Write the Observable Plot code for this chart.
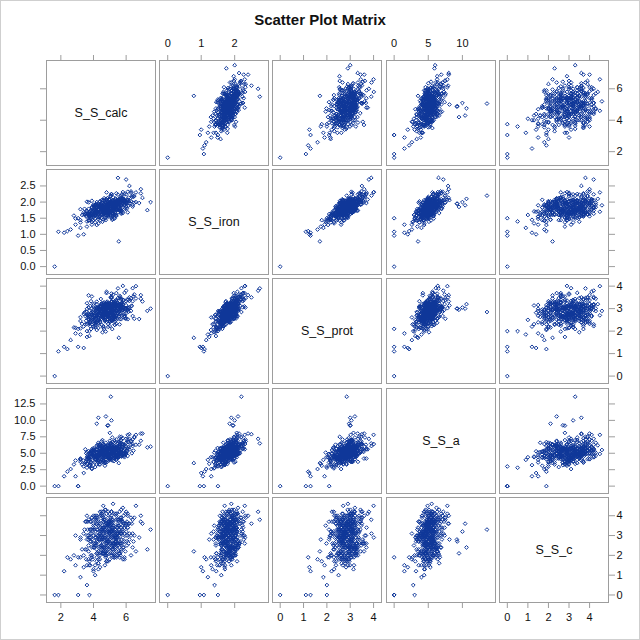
<!DOCTYPE html>
<html><head><meta charset="utf-8">
<script src="https://cdn.jsdelivr.net/npm/d3@7"></script>
<script src="https://cdn.jsdelivr.net/npm/@observablehq/plot@0.6"></script>
<style>
body{margin:0;background:#fff;}
#chart{position:relative;width:640px;height:640px;box-sizing:border-box;border:1px solid #cfcfcf;background:#fff;overflow:hidden;font-family:"Liberation Sans",Arial,sans-serif;}
#title{position:absolute;left:0;width:638px;top:10px;text-align:center;font-weight:bold;font-size:15px;color:#111;}
</style></head><body><div id="chart"><div id="title">Scatter Plot Matrix</div></div>
<script>
const calc=[5.1,3.75,5.7,5.4,5.4,4.1,5.75,3.7,5.0,4.7,
3.8,6.4,4.55,4.5,4.9,4.1,6.35,3.9,5.3,5.1,
3.7,5.05,5.5,4.15,6.2,4.0,4.8,4.4,4.5,5.55,
5.5,6.0,4.0,6.5,4.85,4.6,4.4,5.45,4.9,3.9,
3.65,5.3,5.2,6.4,4.3,3.2,4.8,4.55,6.0,4.2,
5.4,4.45,4.95,4.5,5.6,3.6,6.2,5.2,3.6,4.9,
6.05,4.4,5.0,3.45,5.2,4.3,5.2,5.0,2.8,5.6,
4.7,5.85,5.15,4.7,3.9,5.4,5.2,4.1,5.15,6.8,
4.6,4.2,5.8,3.95,5.55,5.1,3.5,6.0,4.6,4.75,
5.7,4.8,4.3,4.75,4.9,4.5,5.3,4.05,4.9,6.15,
4.5,5.05,4.6,5.9,3.8,5.3,5.25,4.7,5.4,4.3,
5.0,5.6,3.85,5.6,4.4,5.1,4.65,2.9,5.7,4.2,
4.8,5.95,4.6,4.65,5.0,5.9,4.1,4.8,3.8,4.95,
4.9,5.2,5.1,5.8,3.55,5.5,5.7,5.75,3.6,5.0,
4.45,4.5,4.3,5.8,5.0,4.1,4.0,6.45,5.1,5.4,
4.7,3.75,5.65,5.4,4.8,4.3,5.4,4.0,5.1,5.8,
4.85,4.7,3.9,4.75,4.3,5.8,6.1,4.4,3.9,4.4,
5.6,4.45,4.05,5.3,4.6,4.7,4.5,3.4,5.65,5.7,
4.0,5.4,5.2,5.25,5.05,4.1,5.0,5.1,5.2,3.65,
4.3,5.6,3.4,5.85,4.2,5.3,4.6,4.55,4.2,5.35,
5.4,4.25,5.3,6.6,4.8,4.7,4.75,3.2,4.7,5.0,
4.2,6.9,4.75,5.4,5.1,3.6,5.45,4.3,4.6,5.5,
4.5,5.65,5.3,3.85,5.5,5.3,5.3,4.0,4.9,5.95,
4.5,4.8,4.6,7.0,4.55,3.7,6.1,4.85,4.4,5.3,
4.95,5.5,4.5,5.1,3.9,3.8,5.5,5.65,4.6,4.5,
5.2,4.05,6.05,4.2,5.3,4.6,6.3,4.7,5.9,4.6,
5.55,3.8,5.1,4.35,5.7,4.6,5.7,4.9,3.2,4.1,
5.1,6.15,3.75,5.0,5.1,4.4,5.7,4.4,4.85,6.1,
4.2,5.0,4.8,4.65,5.95,4.4,4.8,6.4,4.3,4.35,
5.1,5.9,3.7,5.05,5.3,4.0,5.4,3.55,5.4,5.25,
5.5,3.9,5.7,5.15,4.55,3.8,5.2,4.7,5.1,5.0,
5.3,4.5,4.65,4.2,5.1,5.9,3.85,5.7,5.0,4.8,
4.6,5.85,5.5,4.2,4.2,4.3,5.75,4.9,3.3,4.95,
5.3,5.7,4.4,5.7,3.85,6.1,4.1,6.3,5.0,4.85,
5.1,5.05,4.7,3.9,5.1,5.45,4.1,4.6,5.8,3.5,
5.55,4.3,4.85,6.0,4.5,4.9,4.8,6.1,4.15,5.6,
5.2,4.6,6.5,5.25,4.5,4.4,5.3,5.35,3.7,5.4,
4.4,4.9,5.55,3.7,5.15,5.4,4.3,5.7,5.1,4.0,
4.75,5.0,6.0,4.8,4.95,3.6,5.5,4.2,4.65,5.45,
4.2,5.3,4.9,6.3,5.25,4.5,4.65,5.0,5.0,4.9,
1.62,1.85,3.06,3.06,3.75,5.5,6.0,7.3,7.5,2.2,2.6,2.9,5.55,5.06,4.3,4.76,
4.2,5.1,4.86,4.9,6.9,3.2,3.6,3.4,2.4,6.6,5.2,4.6,5.8,4.1,6.2,4.0];
const iron=[1.92,1.44,1.93,1.96,1.97,1.77,2.11,1.44,1.88,1.90,
1.65,2.20,1.39,1.98,1.83,1.66,2.16,1.38,1.94,1.86,
1.79,1.78,1.91,1.94,1.95,1.92,1.58,2.02,1.51,2.05,
1.77,1.96,1.71,1.98,1.70,1.93,1.81,1.98,1.55,2.04,
1.67,1.79,1.99,1.91,1.80,1.44,2.07,1.80,1.98,1.66,
1.60,1.69,2.08,1.77,1.78,1.73,2.04,1.73,2.01,1.74,
2.05,1.70,1.68,1.79,1.64,1.86,2.15,1.67,1.58,1.73,
1.85,2.10,1.45,1.84,1.82,1.77,2.03,1.48,1.98,1.97,
1.88,1.74,1.95,1.43,2.09,1.80,1.63,2.24,1.76,1.75,
1.67,1.91,1.74,1.86,1.77,1.63,1.96,1.62,1.92,1.89,
1.72,1.78,1.85,2.25,1.60,1.86,1.78,1.65,1.90,1.47,
1.97,2.07,1.74,1.74,1.84,1.95,1.87,1.49,1.64,2.00,
1.70,2.04,1.60,1.77,2.09,1.77,1.91,1.73,1.71,1.92,
1.97,1.58,1.75,2.31,1.58,1.96,1.75,2.24,1.71,1.70,
1.70,2.06,1.65,2.06,1.64,1.60,1.76,2.16,1.69,1.79,
1.93,1.55,2.00,1.57,1.98,1.54,2.27,1.60,1.85,2.12,
1.90,1.83,1.63,1.67,1.96,1.66,2.05,1.91,1.30,1.86,
2.10,1.93,1.73,1.67,1.67,2.04,1.60,1.68,2.00,2.04,
1.61,2.05,1.86,1.71,1.80,1.90,1.75,1.95,1.98,1.63,
1.85,1.76,1.62,1.90,1.92,1.62,1.85,1.75,1.73,2.11,
1.85,1.53,2.06,2.00,1.81,1.64,1.98,1.78,1.75,1.79,
1.74,2.27,1.44,1.91,1.92,1.64,1.97,1.34,2.05,1.85,
1.82,1.79,1.86,1.55,2.23,1.87,1.85,1.58,1.60,2.04,
1.76,1.83,1.88,2.13,1.88,1.65,1.97,1.91,1.83,1.61,
1.66,2.02,1.72,2.24,1.69,1.55,1.68,2.13,1.64,1.77,
1.76,1.76,1.80,1.89,1.89,1.46,2.33,1.66,1.93,1.70,
2.04,1.70,1.95,1.53,1.92,2.06,1.90,1.78,1.37,1.90,
1.79,2.14,1.59,1.93,1.51,1.90,1.87,1.43,2.12,2.08,
1.83,1.73,2.08,1.63,1.81,1.89,1.76,1.86,1.92,1.67,
1.70,2.05,1.42,2.18,1.60,1.81,2.02,1.55,1.86,1.76,
1.84,1.85,1.71,2.02,1.82,1.65,1.91,1.49,2.25,1.69,
1.80,1.78,2.12,1.29,1.93,1.91,1.51,2.12,2.06,1.73,
1.63,2.05,1.76,1.70,1.70,1.66,2.03,1.82,1.60,1.83,
1.99,1.90,1.56,2.00,1.63,2.32,1.72,2.03,1.69,1.82,
2.03,1.58,1.99,1.62,1.74,2.04,1.37,1.84,2.05,1.63,
2.02,1.60,1.77,1.86,1.89,1.67,2.30,1.68,1.67,2.03,
1.65,1.98,2.19,1.51,1.98,1.85,1.49,2.08,1.63,1.76,
2.02,1.64,1.98,1.99,1.49,1.94,1.70,2.20,1.69,1.89,
1.52,1.92,2.01,1.66,2.07,1.24,1.88,1.87,1.77,1.78,
1.83,1.82,1.79,2.29,1.59,1.92,1.82,1.79,1.60,1.58,
0,1.08,0.96,1.5,1.5,2.75,2.7,1.75,2.0,1.05,1.15,1.3,0.78,2.2,1.9,2.1,
1.85,2.0,1.95,1.95,2.4,1.2,1.4,1.0,1.1,2.3,1.9,1.7,2.1,1.6,2.5,1.45];
const prot=[3.32,1.78,3.16,2.87,3.69,2.44,3.26,2.74,2.40,3.16,
2.35,3.91,1.95,2.92,3.15,2.24,3.13,2.30,3.24,2.88,
3.06,2.69,2.87,2.91,3.05,3.21,2.41,3.11,2.65,2.65,
2.99,3.15,3.14,2.55,2.77,2.99,2.95,2.90,2.19,3.54,
2.68,2.65,3.13,3.33,2.88,2.12,2.96,3.07,3.03,2.38,
2.51,2.78,3.23,3.04,2.53,2.71,3.34,2.56,3.24,2.89,
3.40,2.82,2.22,2.83,2.76,2.37,3.62,2.82,2.16,3.03,
2.76,3.38,2.45,2.89,2.60,3.16,2.96,2.68,3.20,2.54,
3.03,2.68,3.20,2.55,2.66,3.02,2.67,3.33,2.95,3.02,
2.53,3.22,2.60,2.78,3.23,2.28,3.32,2.51,2.92,2.87,
2.99,2.85,2.58,3.70,2.22,3.19,2.68,2.61,3.16,2.14,
2.80,3.47,3.33,2.30,3.00,2.70,3.28,2.15,2.78,3.31,
2.87,2.56,2.77,3.23,3.10,2.67,2.78,3.29,2.41,2.95,
2.73,2.83,2.51,4.01,2.46,3.17,2.92,3.06,2.99,2.47,
3.12,3.18,2.61,2.93,2.66,2.29,2.81,3.55,2.46,3.23,
2.53,2.90,3.12,2.32,2.76,2.87,3.38,2.61,3.20,2.97,
3.07,2.44,3.00,2.93,2.55,2.93,2.96,2.81,2.61,3.09,
2.95,3.43,2.43,2.53,3.08,2.81,2.87,2.76,2.76,3.05,
2.78,2.72,3.17,2.65,3.10,2.56,2.85,3.28,2.94,2.61,
2.70,3.21,2.21,3.05,3.01,2.28,3.17,2.61,3.04,2.91,
2.68,2.43,3.31,3.45,2.62,3.02,3.01,2.45,3.11,2.71,
3.20,3.44,1.98,3.07,3.11,2.32,3.09,2.31,2.99,3.11,
2.79,2.99,3.06,2.09,3.47,3.21,2.54,2.86,2.63,2.99,
2.71,2.78,3.24,3.32,2.77,2.56,2.95,3.15,3.09,2.71,
2.59,3.25,2.55,3.52,2.78,2.39,2.79,3.52,2.22,2.63,
3.07,2.35,2.92,3.03,3.13,2.16,3.47,3.08,2.62,2.63,
3.09,3.12,2.63,2.48,3.44,2.68,3.09,2.52,2.62,2.69,
3.08,3.40,2.33,3.10,2.49,2.95,2.69,2.41,3.31,3.02,
2.73,3.02,3.75,2.10,2.95,2.68,3.16,2.67,3.05,2.70,
2.90,2.76,2.72,3.51,2.44,2.95,2.69,2.86,2.92,2.61,
3.00,2.52,3.17,3.30,2.61,2.47,2.84,2.49,3.67,2.86,
2.52,3.24,3.01,2.05,3.48,2.67,2.73,3.20,3.14,2.52,
2.64,3.04,2.80,2.66,2.85,2.63,3.05,3.11,2.32,2.74,
3.03,3.23,2.39,3.00,2.81,3.05,3.01,2.90,3.02,2.76,
3.47,2.55,2.61,2.72,2.79,3.29,2.17,2.82,3.39,2.30,
2.87,2.78,3.25,2.56,2.92,2.67,3.69,2.53,2.38,3.57,
2.72,2.57,3.63,2.90,2.86,2.93,2.28,3.36,2.52,2.65,
3.10,2.66,2.85,3.59,2.09,3.00,2.80,3.39,2.87,2.71,
2.85,3.07,2.79,2.70,3.17,1.74,3.15,3.03,2.79,3.04,
2.40,3.18,2.93,3.10,2.63,3.21,2.84,3.00,2.45,2.32,
0,1.1,1.3,2.1,2.0,3.9,3.8,2.9,3.0,1.3,1.6,1.9,1.7,2.85,3.0,3.2,
2.95,3.05,3.0,3.0,3.6,1.85,2.0,1.25,1.2,4.0,2.9,2.7,3.2,2.5,3.5,2.2];
const a=[5.8,3.1,5.7,7.1,4.2,4.1,6.0,4.4,4.2,5.1,
5.1,6.1,5.1,6.8,4.4,4.6,5.0,2.7,6.6,5.1,
3.7,6.5,5.4,4.0,5.6,5.6,5.7,3.7,4.0,5.5,
4.8,6.0,4.5,7.5,4.7,4.7,6.3,4.8,5.0,5.6,
4.5,6.0,4.8,6.4,3.8,4.2,5.3,7.0,4.9,4.8,
4.0,4.7,5.9,5.5,4.5,3.4,7.2,4.3,5.2,6.2,
5.3,5.3,4.3,3.4,5.8,6.3,6.0,4.0,3.3,5.0,
5.5,6.3,3.9,4.6,4.9,4.7,5.7,4.7,7.4,6.3,
5.2,4.5,5.9,5.4,5.2,5.1,3.6,6.6,4.9,3.7,
5.5,5.2,3.6,6.1,4.7,5.9,5.4,4.6,4.2,6.7,
4.6,4.8,6.4,5.7,4.9,5.6,5.1,3.5,5.6,4.0,
5.3,7.5,3.7,4.6,6.1,5.0,6.3,3.9,4.5,6.0,
4.8,5.6,3.9,4.6,6.9,5.0,4.1,5.4,3.2,6.1,
5.8,4.8,5.5,6.4,3.8,5.7,5.1,6.4,4.4,4.2,
5.2,4.4,5.5,7.3,5.2,2.9,4.7,5.4,6.1,4.4,
5.6,4.0,6.6,4.5,5.7,4.5,5.8,5.4,5.1,4.9,
6.2,4.4,5.3,4.4,4.8,4.6,6.7,5.0,2.6,5.8,
6.3,5.2,4.8,5.4,3.9,5.8,4.4,3.9,6.0,7.0,
4.3,5.9,4.7,3.8,6.6,4.0,5.1,5.8,5.4,4.5,
4.9,5.9,3.0,5.3,5.5,4.4,6.1,4.1,5.6,5.9,
5.2,4.3,4.9,6.3,5.5,4.5,6.6,4.1,6.0,4.3,
4.1,6.9,4.4,5.5,5.4,4.1,5.7,4.4,5.7,4.4,
5.1,6.9,5.0,3.6,6.5,6.1,4.4,5.8,4.5,5.1,
5.4,4.4,4.9,8.0,5.1,5.3,4.6,6.0,3.9,5.4,
3.9,5.7,5.8,5.7,4.7,3.6,4.3,6.4,5.5,5.3,
5.0,5.0,5.4,6.2,5.9,3.8,6.8,3.7,4.6,5.7,
6.7,4.9,5.6,4.8,5.1,4.8,7.0,4.6,3.7,4.5,
5.0,5.9,4.2,6.0,5.2,6.4,5.2,3.3,5.3,7.8,
4.5,5.3,5.6,4.7,6.2,5.6,4.8,7.1,4.7,3.3,
5.7,4.8,4.3,6.4,4.2,5.2,5.9,5.0,5.1,5.2,
4.9,5.4,5.3,4.7,4.8,4.8,6.7,3.1,6.3,5.9,
4.2,5.5,4.9,4.4,5.6,4.4,4.9,5.1,8.1,3.6,
5.4,5.0,4.6,5.6,3.3,6.6,5.6,5.8,3.3,4.5,
6.9,4.6,5.7,4.8,4.4,7.1,4.1,6.3,4.7,5.5,
6.4,4.1,4.7,5.4,5.4,4.6,3.7,5.6,5.0,5.6,
5.0,5.2,4.7,4.9,6.1,4.6,5.6,5.7,5.1,5.2,
5.2,3.6,7.4,4.3,5.1,5.8,5.8,4.9,4.3,4.9,
4.8,5.6,6.1,4.2,4.9,5.6,4.6,7.5,4.4,5.5,
5.1,4.9,5.1,5.2,4.8,3.4,5.8,5.1,5.3,5.1,
5.2,5.3,4.8,6.9,5.1,4.6,5.8,5.8,4.2,4.3,
0,0,0,0,3.0,6.5,7.2,5.9,6.0,1.5,2.6,1.5,3.5,13.6,10.4,10.6,
9.5,10.0,9.2,9.25,8.0,4.0,2.8,2.0,2.2,7.8,5.5,4.9,6.2,4.4,7.9,3.2];
const c=[3.2,1.7,3.2,4.0,2.4,3.9,2.6,2.5,3.6,1.5,
3.1,3.1,3.5,2.4,4.2,2.6,3.6,1.9,2.0,3.7,
2.8,2.1,3.4,2.9,2.8,4.0,2.0,3.0,3.4,2.8,
2.5,3.6,1.3,3.9,2.7,2.2,4.2,2.9,3.2,2.8,
3.3,2.6,3.8,2.4,3.0,2.9,1.7,3.3,2.7,3.6,
2.2,3.0,3.2,4.1,2.1,3.0,3.1,3.5,2.3,3.2,
3.7,1.4,3.1,3.3,2.9,3.8,2.6,3.1,2.0,1.9,
3.2,4.0,2.1,4.3,2.0,3.1,3.4,1.5,3.4,2.9,
3.8,2.5,3.5,1.8,3.3,3.6,2.3,3.2,4.0,2.0,
2.6,3.6,2.7,1.9,3.6,2.3,3.3,3.3,2.7,3.6,
2.5,3.2,2.2,3.4,3.7,2.3,3.5,3.4,1.9,3.0,
3.6,3.8,2.0,4.2,2.4,2.9,2.2,3.0,3.1,2.8,
1.7,3.5,2.9,2.1,4.1,2.7,4.0,2.1,2.7,3.7,
3.9,2.6,3.2,2.9,3.7,3.1,2.2,3.7,1.5,3.2,
2.5,4.2,2.2,3.7,1.8,2.5,3.5,2.7,4.0,2.0,
3.3,1.5,3.9,2.6,3.6,3.5,2.8,2.6,4.2,2.4,
2.3,3.0,3.9,2.2,3.7,1.8,3.4,3.2,3.1,3.1,
2.4,3.3,3.8,1.9,3.1,3.8,2.5,3.1,2.0,3.4,
3.0,3.8,2.3,3.2,2.6,2.9,3.6,2.4,2.5,3.7,
3.5,2.1,2.0,3.6,3.9,3.2,2.4,2.7,3.6,2.7,
2.9,3.3,2.6,2.2,3.2,3.0,4.3,1.9,3.3,3.5,
2.1,3.7,2.6,2.7,3.7,4.0,2.9,1.3,3.4,3.2,
3.2,3.1,1.9,3.7,3.5,2.4,2.9,3.6,2.1,4.1,
3.3,1.7,3.4,3.6,2.1,3.8,3.4,2.4,3.6,2.6,
3.0,3.8,2.5,4.2,3.3,1.5,3.1,2.6,4.2,2.8,
3.7,2.4,2.5,3.3,4.1,2.1,3.9,2.9,1.8,3.7,
3.0,3.3,2.0,2.8,4.3,3.2,2.8,3.6,2.8,2.5,
3.7,2.6,2.9,3.7,2.9,1.8,3.8,2.9,2.5,4.1,
2.3,3.3,4.1,2.8,2.2,3.1,3.4,3.8,2.1,2.8,
3.8,3.1,1.8,3.9,2.5,3.4,4.1,1.8,3.2,3.4,
3.6,2.4,3.8,2.3,2.8,3.3,1.9,2.9,3.0,3.7,
2.1,2.9,3.8,1.9,4.2,1.9,2.9,3.7,2.8,2.7,
3.9,2.4,3.1,2.7,3.0,1.6,3.3,3.7,2.3,3.1,
2.4,3.1,4.0,2.3,2.7,4.0,2.6,2.0,3.5,3.5,
2.5,3.2,2.0,3.9,2.9,2.6,3.2,2.1,3.2,3.7,
3.5,1.6,2.6,3.6,2.4,3.5,2.6,3.0,3.8,2.6,
2.6,3.7,3.0,2.8,4.0,2.0,3.1,2.9,3.0,4.1,
2.1,2.9,3.5,2.2,3.3,3.0,1.8,3.9,3.0,2.4,
3.5,2.4,3.0,3.6,2.3,2.8,2.6,4.0,2.4,3.4,
1.7,3.0,3.7,3.0,3.0,4.0,2.4,2.7,3.5,1.7,
0,0,0,1.9,0,3.8,4.2,2.3,3.3,1.2,1.8,1.5,2.2,3.3,3.6,2.4,
2.1,3.2,2.8,2.7,4.0,0.9,0.5,1.4,1.9,4.5,4.6,4.5,4.4,1.0,3.6,1.2];

const names=["S_S_calc","S_S_iron","S_S_prot","S_S_a","S_S_c"];
const xTicks=[[2,4,6],[0,1,2],[0,1,2,3,4],[0,5,10],[0,1,2,3,4]];
const yTicks=[[2,4,6],[0,0.5,1,1.5,2,2.5],[0,1,2,3,4],[0,2.5,5,7.5,10,12.5],[0,1,2,3,4]];
const yFmt=["d",".1f","d",".1f","d"];
const domains=[[1.12,7.8],[-0.245,3.01],[-0.33,4.34],[-1.12,14.85],[-0.38,4.92]];

const vars=[calc,iron,prot,a,c];
const idx=d3.range(calc.length);
const lefts=[46,159,272,386,499], tops=[60,169,278,388,497];
const W=109,H=105,M=40;
const frameColor="#9d9d9d", dotColor="#0f3799", textColor="#111";
const chart=document.getElementById("chart");
const blank=()=>"";
for(let i=0;i<5;i++){
  for(let j=0;j<5;j++){
    const marks=[Plot.frame({stroke:frameColor})];
    if(i===j){
      marks.push(Plot.text([names[i]],{frameAnchor:"middle",fontSize:12.5,fill:textColor}));
    }else{
      marks.push(Plot.dot(idx,{x:k=>vars[j][k],y:k=>vars[i][k],symbol:"diamond2",r:1.7,stroke:dotColor,strokeWidth:1}));
    }
    let hasX=false,hasY=false;
    if(i===0){hasX=true;marks.push(Plot.axisX(xTicks[j],{anchor:"top",tickSize:6,tickPadding:8,tickFormat:j%2===1?d3.format("d"):blank,stroke:frameColor,fill:textColor,fontSize:11,label:null}));}
    if(i===4){hasX=true;marks.push(Plot.axisX(xTicks[j],{anchor:"bottom",tickSize:6,tickPadding:5,tickFormat:j%2===0?d3.format("d"):blank,stroke:frameColor,fill:textColor,fontSize:11,label:null}));}
    if(j===0){hasY=true;marks.push(Plot.axisY(yTicks[i],{anchor:"left",tickSize:6,tickPadding:5,tickFormat:i%2===1?d3.format(yFmt[i]):blank,stroke:frameColor,fill:textColor,fontSize:11,label:null}));}
    if(j===4){hasY=true;marks.push(Plot.axisY(yTicks[i],{anchor:"right",tickSize:6,tickPadding:2,tickFormat:i%2===0?d3.format(yFmt[i]):blank,stroke:frameColor,fill:textColor,fontSize:11,label:null}));}
    const xs={domain:domains[j]}; if(!hasX) xs.axis=null;
    const ys={domain:domains[i]}; if(!hasY) ys.axis=null;
    const p=Plot.plot({width:W+2*M,height:H+2*M,margin:M,x:xs,y:ys,
      style:{background:"transparent",overflow:"visible",fontFamily:"'Liberation Sans',Arial,sans-serif",fontSize:"11px"},
      marks});
    p.style.position="absolute";
    p.style.left=(lefts[j]-M-1)+"px";
    p.style.top=(tops[i]-M-1)+"px";
    chart.appendChild(p);
  }
}
</script></body></html>
